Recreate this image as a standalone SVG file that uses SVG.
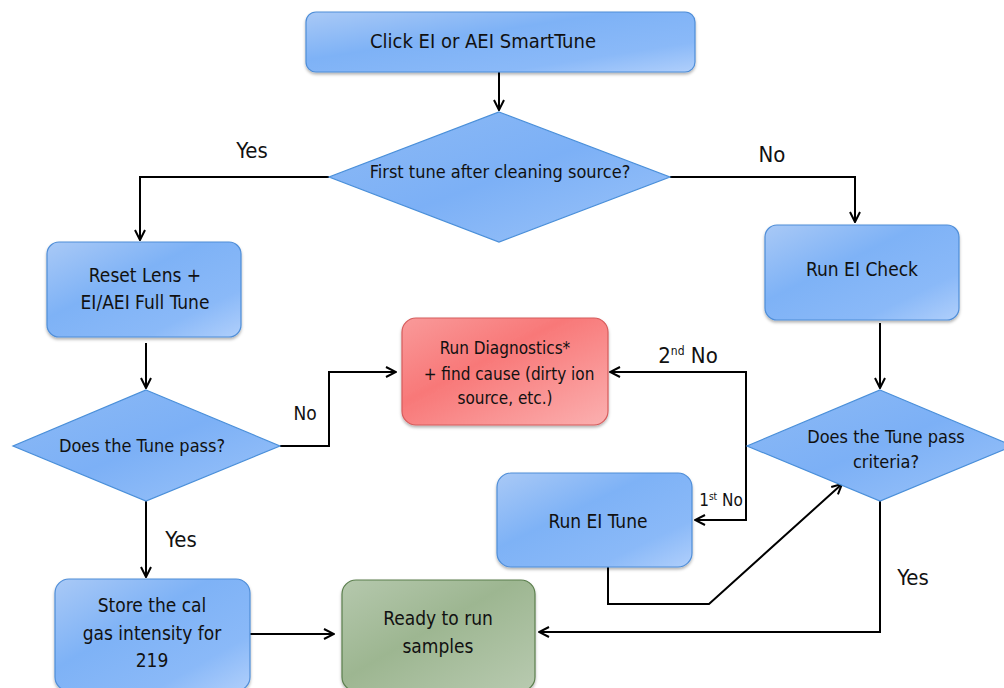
<svg xmlns="http://www.w3.org/2000/svg" width="1004" height="688" viewBox="0 0 1004 688">
<defs>
<linearGradient id="gBlue" x1="0" y1="0" x2="1" y2="1">
<stop offset="0" stop-color="#a9c9f6"/>
<stop offset="0.4" stop-color="#7eb2f6"/>
<stop offset="0.75" stop-color="#8ab9f8"/>
<stop offset="1" stop-color="#b0cffb"/>
</linearGradient>
<linearGradient id="gDia" x1="0" y1="0" x2="1" y2="1">
<stop offset="0" stop-color="#8dbaf5"/>
<stop offset="0.5" stop-color="#7cb0f6"/>
<stop offset="1" stop-color="#9cc4f9"/>
</linearGradient>
<linearGradient id="gRed" x1="0" y1="0" x2="1" y2="1">
<stop offset="0" stop-color="#f99a9a"/>
<stop offset="0.4" stop-color="#f87878"/>
<stop offset="1" stop-color="#fbb0b0"/>
</linearGradient>
<linearGradient id="gGreen" x1="0" y1="0" x2="1" y2="1">
<stop offset="0" stop-color="#b5c8ad"/>
<stop offset="0.45" stop-color="#9db691"/>
<stop offset="1" stop-color="#b8cab0"/>
</linearGradient>
<filter id="sh" x="-10%" y="-10%" width="120%" height="130%">
<feDropShadow dx="0" dy="2" stdDeviation="1.5" flood-color="#000" flood-opacity="0.3"/>
</filter>
<marker id="ah" viewBox="0 0 12 12" refX="11" refY="6" markerWidth="12" markerHeight="12" markerUnits="userSpaceOnUse" orient="auto">
<path d="M1,1 L11,6 L1,11" fill="none" stroke="#000" stroke-width="2"/>
</marker>
<style>
.box{fill:url(#gBlue);stroke:#4f8ed8;stroke-width:1.2;filter:url(#sh)}
.dia{fill:url(#gDia);stroke:#4a8fd9;stroke-width:1.2}
.red{fill:url(#gRed);stroke:#d65c5c;stroke-width:1.2;filter:url(#sh)}
.grn{fill:url(#gGreen);stroke:#5b7f4d;stroke-width:1.2;filter:url(#sh)}
text{font-family:"DejaVu Sans Condensed","Liberation Sans Narrow","Liberation Sans",sans-serif;font-stretch:condensed;fill:#111;text-anchor:middle}
.t{font-size:19px}
.s{font-size:17px}
.d{font-size:18px}
.lbl{font-size:22px}
.c{fill:none;stroke:#000;stroke-width:2}
.ca{fill:none;stroke:#000;stroke-width:2;marker-end:url(#ah)}
</style>
</defs>

<g id="connectors">
<path class="ca" d="M499,72 V110"/>
<path class="ca" d="M329,177 H140 V240"/>
<path class="ca" d="M670,177 H855 V222"/>
<path class="ca" d="M146,343 V388"/>
<path class="ca" d="M280,446 H329 V372 H396"/>
<path class="ca" d="M146,501 V577"/>
<path class="ca" d="M880,323 V388"/>
<path class="ca" d="M746,446 V372 H610"/>
<path class="ca" d="M746,446 V520 H695"/>
<path class="ca" d="M608,567 V604 H709 L842,484"/>
<path class="ca" d="M880,501 V632 H539"/>
<path class="ca" d="M250,634 H334"/>
</g>

<g id="n-start"><rect class="box" x="306" y="12" width="389" height="60" rx="10"/><text class="t" x="483" y="48" style="font-size:20px">Click EI or AEI SmartTune</text></g>
<g id="n-first"><polygon class="dia" points="499,112 670,177 499,242 329,177"/><text class="d" x="500" y="178">First tune after cleaning source?</text></g>
<g id="n-reset"><rect class="box" x="47" y="242" width="194" height="95" rx="12"/><text class="t" x="145" y="282">Reset Lens +</text><text class="t" x="145" y="309">EI/AEI Full Tune</text></g>
<g id="n-check"><rect class="box" x="765" y="225" width="194" height="95" rx="12"/><text class="t" x="862" y="276">Run EI Check</text></g>
<g id="n-pass1"><polygon class="dia" points="146,390 280,446 146,501 13,446"/><text class="d" x="142" y="452">Does the Tune pass?</text></g>
<g id="n-diag"><rect class="red" x="402" y="318" width="206" height="107" rx="14"/><text class="s" x="505" y="354">Run Diagnostics*</text><text class="s" x="509" y="380">+ find cause (dirty ion</text><text class="s" x="505" y="404">source, etc.)</text></g>
<g id="n-pass2"><polygon class="dia" points="880,390 1013,446 880,501 747,446"/><text class="d" x="886" y="443">Does the Tune pass</text><text class="d" x="886" y="468">criteria?</text></g>
<g id="n-tune"><rect class="box" x="497" y="473" width="195" height="94" rx="14"/><text class="t" x="598" y="528">Run EI Tune</text></g>
<g id="n-store"><rect class="box" x="55" y="579" width="195" height="112" rx="14"/><text class="t" x="152" y="612">Store the cal</text><text class="t" x="152" y="640">gas intensity for</text><text class="t" x="152" y="667">219</text></g>
<g id="n-ready"><rect class="grn" x="342" y="580" width="193" height="111" rx="14"/><text class="t" x="438" y="625">Ready to run</text><text class="t" x="438" y="653">samples</text></g>

<g id="labels">
<text class="lbl" x="252" y="158">Yes</text>
<text class="lbl" x="772" y="162">No</text>
<text class="t" x="305" y="420">No</text>
<text class="lbl" x="181" y="547">Yes</text>
<text class="lbl" x="913" y="585">Yes</text>
<text class="lbl" x="688" y="363">2<tspan font-size="12" dy="-8">nd</tspan><tspan dy="8"> No</tspan></text>
<text class="s" x="721" y="506">1<tspan font-size="10" dy="-6">st</tspan><tspan dy="6"> No</tspan></text>
</g>
</svg>
